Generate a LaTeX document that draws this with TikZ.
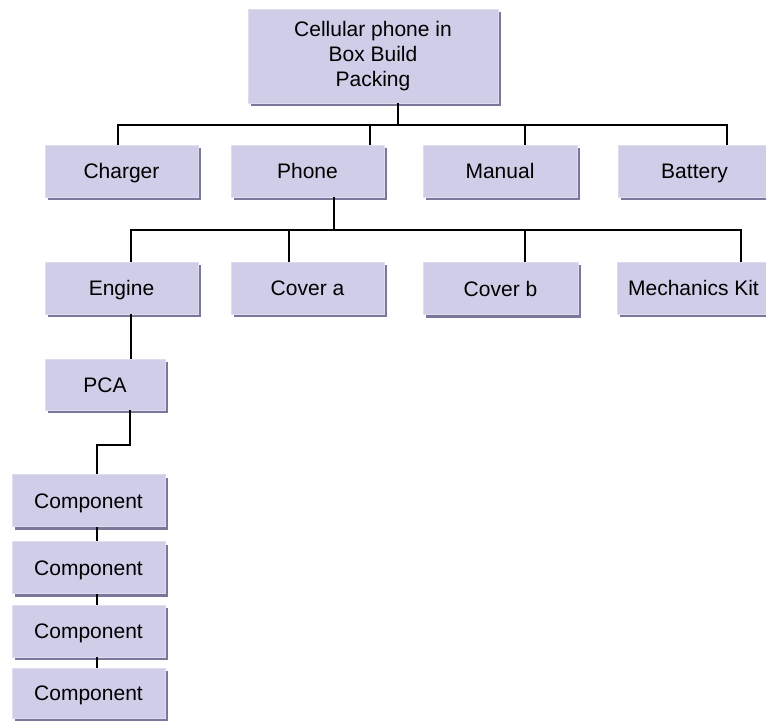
\documentclass[tikz,border=0pt]{standalone}
\usepackage{fontspec}
\setmainfont{Liberation Sans}
\usetikzlibrary{shadows}
\definecolor{boxfill}{RGB}{207,205,231}
\definecolor{boxedge}{RGB}{222,221,239}
\definecolor{boxshadow}{RGB}{122,120,154}
\begin{document}
\begin{tikzpicture}[x=1pt,y=-1pt,
  bbox/.style={rectangle, fill=boxfill, draw=boxedge, line width=0.8pt,
    general shadow={fill=boxshadow, shadow xshift=3pt, shadow yshift=-3pt},
    minimum width=153pt, minimum height=52pt, inner sep=0pt,
    font=\fontsize{21}{25}\selectfont},
  box/.style={bbox, text height=15pt, text depth=0pt},
  conn/.style={draw=black, line width=1.6pt}]
\useasboundingbox (0,0) rectangle (766,722);
% nodes
\node[bbox, align=center, minimum width=250pt, minimum height=94pt] (top) at (373,56) {Cellular phone in\\Box Build\\Packing};
\node[box] (charger) at (121.5,171) {Charger};
\node[box] (phone) at (307.5,171) {Phone};
\node[box, minimum width=154pt] (manual) at (500,171) {Manual};
\node[box] (battery) at (694.5,171) {Battery};
\node[box] (engine) at (121.5,288) {Engine};
\node[box] (covera) at (307.5,288) {Cover a};
\node[box, minimum width=155pt] (coverb) at (500.5,288.5) {Cover b};
\node[box] (mech) at (693.5,288) {Mechanics Kit};
\node[box, minimum width=120pt, minimum height=51pt] (pca) at (105,384.5) {PCA};
\node[box] (c1) at (88.5,500.5) {Component};
\node[box] (c2) at (88.5,567.5) {Component};
\node[box] (c3) at (88.5,631) {Component};
\node[box, minimum height=50pt] (c4) at (88.5,693) {Component};
% level 1 connectors
\coordinate (j1) at (398,125);
\coordinate (t1) at (118,125);
\coordinate (t2) at (370,125);
\coordinate (t3) at (525,125);
\coordinate (t4) at (727,125);
\draw[conn] (j1 |- top.south) -- (j1);
\draw[conn] (t1 |- charger.north) -- (t1) -- (t4) -- (t4 |- battery.north);
\draw[conn] (t2) -- (t2 |- phone.north);
\draw[conn] (t3) -- (t3 |- manual.north);
% level 2 connectors
\coordinate (j2) at (334,230);
\coordinate (s1) at (131,230);
\coordinate (s2) at (289,230);
\coordinate (s3) at (525,230);
\coordinate (s4) at (741,230);
\draw[conn] (j2 |- phone.south) -- (j2);
\draw[conn] (s1 |- engine.north) -- (s1) -- (s4) -- (s4 |- mech.north);
\draw[conn] (s2) -- (s2 |- covera.north);
\draw[conn] (s3) -- (s3 |- coverb.north);
% engine to pca
\draw[conn] (s1 |- engine.south) -- (s1 |- pca.north);
% pca to components
\coordinate (k1) at (130,445);
\coordinate (k2) at (97,445);
\draw[conn] (k1 |- pca.south) -- (k1) -- (k2) -- (k2 |- c1.north);
\draw[conn] (k2 |- c1.south) -- (k2 |- c2.north);
\draw[conn] (k2 |- c2.south) -- (k2 |- c3.north);
\draw[conn] (k2 |- c3.south) -- (k2 |- c4.north);
\end{tikzpicture}
\end{document}
